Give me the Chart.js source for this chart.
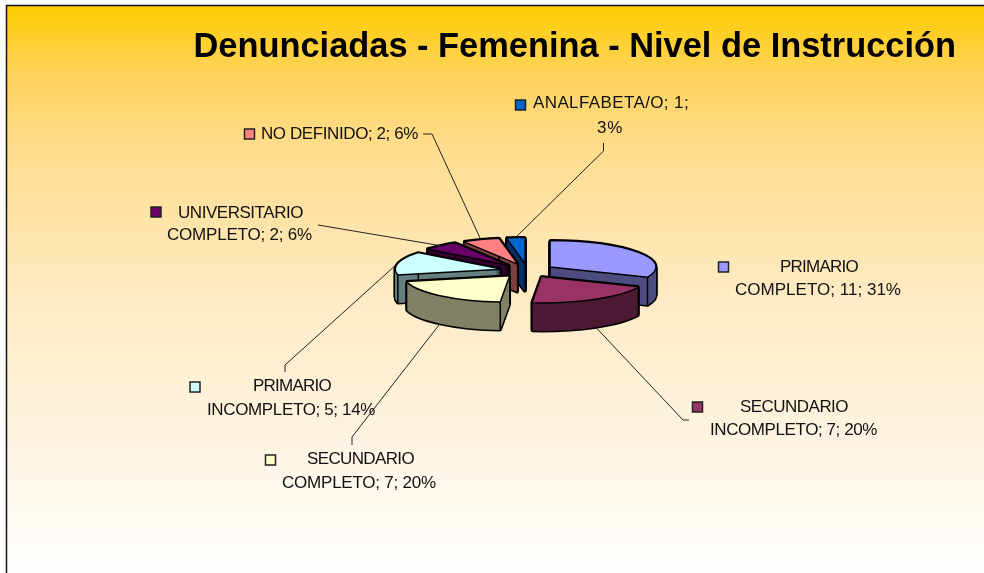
<!DOCTYPE html>
<html>
<head>
<meta charset="utf-8">
<title>Denunciadas - Femenina - Nivel de Instrucción</title>
<script src="https://cdn.jsdelivr.net/npm/chart.js@4"></script>
<style>
  html, body { margin: 0; padding: 0; background: #fff; }
  canvas { display: block; }
</style>
</head>
<body>
<canvas id="chart" width="984" height="573"></canvas>
<script>
const titleText = 'Denunciadas - Femenina - Nivel de Instrucción';
const categories = ['PRIMARIO COMPLETO', 'SECUNDARIO INCOMPLETO', 'SECUNDARIO COMPLETO', 'PRIMARIO INCOMPLETO', 'UNIVERSITARIO COMPLETO', 'NO DEFINIDO', 'ANALFABETA/O'];
const values = [11, 7, 7, 5, 2, 2, 1];
const topColors = ['#9999FF', '#993366', '#FFFFCC', '#CCFFFF', '#660066', '#FF8080', '#0066CC'];
const wallColors = ['#4D4D80', '#4D1A33', '#808066', '#668080', '#330033', '#804040', '#003366'];

// fake 3D pie
const FLAT = 0.25;
const DEPTH = 28;
const EXPLODE = 27;
const drawOrder = [6, 5, 4, 3, 0, 2, 1];

// label layout, same order as categories. lines = [x, y, width]
const labelLayout = [
  { box: [723.5, 267], lines: [[780, 267, 78], [735, 290, 166]], breakAfter: 1 },
  { box: [697.5, 407], lines: [[740, 407, 108], [710, 430, 167]], breakAfter: 1, leader: [[689, 420], [683, 420]], front: true },
  { box: [270.5, 460], lines: [[307, 459, 107], [282, 483, 154]], breakAfter: 1, leader: [[352, 445], [352, 437]], front: true },
  { box: [195, 387], lines: [[253, 386, 78], [207, 410, 168]], breakAfter: 1, leader: [[285, 372], [285, 365]] },
  { box: [156, 212], lines: [[178, 213, 125], [167, 235, 145]], breakAfter: 1, leader: [[318, 225], [330, 227]] },
  { box: [249.5, 134], lines: [[261, 134, 157]], breakAfter: 9, leader: [[423, 134], [432, 134]] },
  { box: [520.5, 105], lines: [[533, 103, 156], [597, 128, 26]], breakAfter: 2, leader: [[603.5, 143], [603.5, 151]] }
];

function midAngle(el) {
  return (el.startAngle + el.endAngle) / 2;
}

function drawSlice(ctx, el, dy, opts) {
  const mid = midAngle(el);
  const saved = el.options;
  ctx.save();
  ctx.translate(0, dy);
  ctx.translate(el.x, el.y);
  ctx.scale(1, FLAT);
  ctx.translate(-el.x, -el.y);
  ctx.translate(Math.cos(mid) * EXPLODE, Math.sin(mid) * EXPLODE);
  el.options = { ...saved, ...opts };
  el.draw(ctx);
  el.options = saved;
  ctx.restore();
}

// screen position of a slice point, angle + radius as in the flat pie
function slicePoint(el, angle, r) {
  const mid = midAngle(el);
  return [
    el.x + Math.cos(mid) * EXPLODE + Math.cos(angle) * r,
    el.y + (Math.sin(mid) * EXPLODE + Math.sin(angle) * r) * FLAT
  ];
}

// the reference text is squeezed or spread per line
function fitText(ctx, text, x, y, width) {
  ctx.letterSpacing = '0px';
  const w = ctx.measureText(text).width;
  ctx.letterSpacing = ((width - w) / text.length).toFixed(3) + 'px';
  ctx.fillText(text, x, y);
  ctx.letterSpacing = '0px';
}

const backgroundPlugin = {
  id: 'background',
  beforeDraw(chart) {
    const ctx = chart.ctx;
    const g = ctx.createLinearGradient(0, 5, 0, 573);
    g.addColorStop(0, '#FFCC00');
    g.addColorStop(0.125, '#FFD35E');
    g.addColorStop(0.257, '#FFDD8F');
    g.addColorStop(0.52, '#FEEBC5');
    g.addColorStop(0.785, '#FFF5E5');
    g.addColorStop(1, '#FFFFFF');
    ctx.save();
    ctx.fillStyle = g;
    ctx.fillRect(7, 5, 977, 568);
    ctx.strokeStyle = '#111';
    ctx.lineWidth = 1.5;
    ctx.beginPath();
    ctx.moveTo(6.5, 573);
    ctx.lineTo(6.5, 5.5);
    ctx.lineTo(984, 5.5);
    ctx.stroke();
    ctx.restore();
  }
};

const pie3dPlugin = {
  id: 'pie3d',
  beforeDatasetDraw(chart, args) {
    const ctx = chart.ctx;
    const arcs = chart.getDatasetMeta(args.index).data;

    // keep line width even although the pie is squashed
    const realStroke = ctx.stroke;
    ctx.stroke = function () {
      const t = ctx.getTransform();
      ctx.setTransform(1, 0, 0, 1, 0, 0);
      realStroke.call(ctx);
      ctx.setTransform(t);
    };

    drawOrder.forEach((i) => {
      const el = arcs[i];
      for (let dy = DEPTH; dy >= 0; dy--) {
        drawSlice(ctx, el, dy, { backgroundColor: '#000', borderColor: '#000', borderWidth: 3 });
      }
      for (let dy = DEPTH; dy >= 0; dy--) {
        drawSlice(ctx, el, dy, { backgroundColor: wallColors[i], borderWidth: 0 });
      }
      // vertical edges
      ctx.strokeStyle = '#000';
      ctx.lineWidth = 1.5;
      [[el.startAngle, 106], [el.endAngle, 106], [midAngle(el), 0]].forEach(([a, r]) => {
        const p = slicePoint(el, a, r);
        ctx.beginPath();
        ctx.moveTo(p[0], p[1]);
        ctx.lineTo(p[0], p[1] + DEPTH);
        ctx.stroke();
      });
      drawSlice(ctx, el, 0, {});
    });

    ctx.stroke = realStroke;
    return false;
  },
  afterDraw(chart) {
    const ctx = chart.ctx;
    const arcs = chart.getDatasetMeta(0).data;
    const total = values.reduce((a, b) => a + b, 0);

    ctx.save();
    ctx.font = '17px "Liberation Sans", Arial, sans-serif';
    ctx.textBaseline = 'middle';
    ctx.textAlign = 'left';

    categories.forEach((name, i) => {
      const lay = labelLayout[i];
      const pct = Math.round(values[i] / total * 100);
      const words = `${name}; ${values[i]}; ${pct}%`.split(' ');
      const textLines = lay.lines.length > 1
        ? [words.slice(0, lay.breakAfter).join(' '), words.slice(lay.breakAfter).join(' ')]
        : [words.join(' ')];

      ctx.fillStyle = topColors[i];
      ctx.strokeStyle = '#222';
      ctx.lineWidth = 1.5;
      ctx.fillRect(lay.box[0] - 5, lay.box[1] - 5, 10, 10);
      ctx.strokeRect(lay.box[0] - 5, lay.box[1] - 5, 10, 10);

      ctx.fillStyle = '#111';
      textLines.forEach((t, n) => fitText(ctx, t, lay.lines[n][0], lay.lines[n][1], lay.lines[n][2]));

      if (lay.leader) {
        const rim = slicePoint(arcs[i], midAngle(arcs[i]), 106);
        ctx.strokeStyle = '#222';
        ctx.lineWidth = 1;
        ctx.beginPath();
        ctx.moveTo(lay.leader[0][0], lay.leader[0][1]);
        ctx.lineTo(lay.leader[1][0], lay.leader[1][1]);
        ctx.lineTo(rim[0], rim[1] + (lay.front ? DEPTH : 0));
        ctx.stroke();
      }
    });
    ctx.restore();
  }
};

new Chart(document.getElementById('chart'), {
  type: 'pie',
  data: {
    labels: categories,
    datasets: [{
      data: values,
      backgroundColor: topColors,
      borderColor: '#000',
      borderWidth: 1.5,
      clip: false
    }]
  },
  options: {
    responsive: false,
    animation: false,
    radius: 106,
    rotation: 0,
    layout: { padding: { left: 99, right: 28, top: 27, bottom: 100 } },
    plugins: {
      legend: { display: false },
      tooltip: { enabled: false },
      title: {
        display: true,
        text: titleText,
        align: 'end',
        color: '#000',
        padding: 0,
        font: { family: '"Liberation Sans", Arial, sans-serif', size: 34.4, weight: 'bold' }
      }
    }
  },
  plugins: [backgroundPlugin, pie3dPlugin]
});
</script>
</body>
</html>
